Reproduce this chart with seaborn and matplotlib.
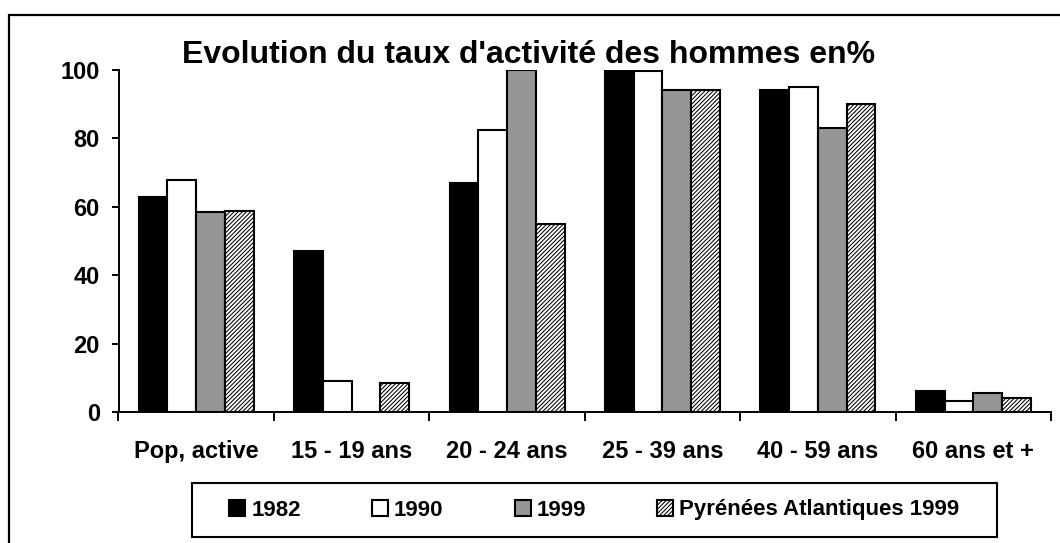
import numpy as np
import pandas as pd
import matplotlib
matplotlib.use("Agg")
import matplotlib.pyplot as plt
from matplotlib.patches import Rectangle
import seaborn as sns

categories = ["Pop, active", "15 - 19 ans", "20 - 24 ans", "25 - 39 ans", "40 - 59 ans", "60 ans et +"]
series = ["1982", "1990", "1999", "Pyrénées Atlantiques 1999"]
v1982 = [62.9, 47.0, 67.0, 100.0, 94.1, 6.1]
v1990 = [67.8, 9.0, 82.6, 99.8, 95.1, 3.4]
v1999 = [58.5, 0.0, 100.0, 94.3, 83.2, 5.6]
vPA = [58.8, 8.6, 55.1, 94.3, 90.1, 4.2]
yticks = [0, 20, 40, 60, 80, 100]
title = "Evolution du taux d'activité des hommes en%"

colors = ["#000000", "#ffffff", "#969696", "#ffffff"]

rows = []
for s, vals in zip(series, [v1982, v1990, v1999, vPA]):
    for c, v in zip(categories, vals):
        rows.append({"cat": c, "val": v, "serie": s})
df = pd.DataFrame(rows)

sns.set_theme(style="white")
plt.rcParams["font.family"] = ["Liberation Sans", "DejaVu Sans"]
plt.rcParams["font.weight"] = "bold"
plt.rcParams["hatch.linewidth"] = 0.75

W, H = 1060, 543
fig = plt.figure(figsize=(W / 100, H / 100), dpi=100)
fig.patch.set_facecolor("white")

# axes placement in pixels
ax_l, ax_r, ax_t, ax_b = 118.5, 1051, 70, 412.3
ax = fig.add_axes([ax_l / W, 1 - ax_b / H, (ax_r - ax_l) / W, (ax_b - ax_t) / H])
ax.set_facecolor("white")

sns.barplot(data=df, x="cat", y="val", hue="serie", hue_order=series,
            order=categories, palette=colors, width=0.74, saturation=1,
            edgecolor="black", linewidth=1.5, errorbar=None, legend=False, ax=ax)

for p in ax.containers[3]:
    p.set_hatch("////////")

ax.set_xlim(-0.5, len(categories) - 0.5)
ax.set_ylim(0, 100)
ax.set_yticks(yticks)
ax.set_yticklabels([str(t) for t in yticks], fontsize=17, fontweight="bold")
ax.set_xticks(range(len(categories)))
ax.set_xticklabels(categories, fontsize=17, fontweight="bold")
ax.set_xticks(np.arange(-0.5, len(categories), 1.0), minor=True)
ax.set_xlabel("")
ax.set_ylabel("")

ax.tick_params(axis="x", which="major", length=0, pad=20, colors="black")
ax.tick_params(axis="x", which="minor", length=6.5, width=1.4, direction="out", color="black", bottom=True)
ax.tick_params(axis="y", which="major", length=5, width=1.4, direction="out", pad=8.5, colors="black", left=True)

for side in ["top", "right"]:
    ax.spines[side].set_visible(False)
for side in ["left", "bottom"]:
    ax.spines[side].set_visible(True)
    ax.spines[side].set_color("black")
    ax.spines[side].set_linewidth(1.4)
ax.grid(False)

# title
fig.text(529 / W, 1 - 63.3 / H, title, ha="center", va="baseline",
         fontsize=23, fontweight="bold", color="black")

# legend
handles = list(ax.containers)
leg = fig.legend(handles, series, loc="center", ncol=4,
                 bbox_to_anchor=(594.5 / W, 1 - 510 / H), bbox_transform=fig.transFigure,
                 frameon=False, prop={"size": 16, "weight": "bold"},
                 handlelength=0.72, handleheight=0.72, handletextpad=0.27,
                 columnspacing=3.2, borderpad=0.2)
for t in leg.get_texts():
    t.set_color("black")

# legend box
fig.patches.append(Rectangle((192 / W, 1 - 537 / H), (997 - 192) / W, (537 - 483) / H,
                             transform=fig.transFigure, fill=False, edgecolor="black",
                             linewidth=1.5, zorder=5))
# outer chart border (extends beyond the image on right/bottom)
fig.patches.append(Rectangle((9 / W, -0.2), 1.5, 1.2 - 15 / H,
                             transform=fig.transFigure, fill=False, edgecolor="black",
                             linewidth=1.6, zorder=5, clip_on=False))

fig.savefig("out.png", dpi=100)
